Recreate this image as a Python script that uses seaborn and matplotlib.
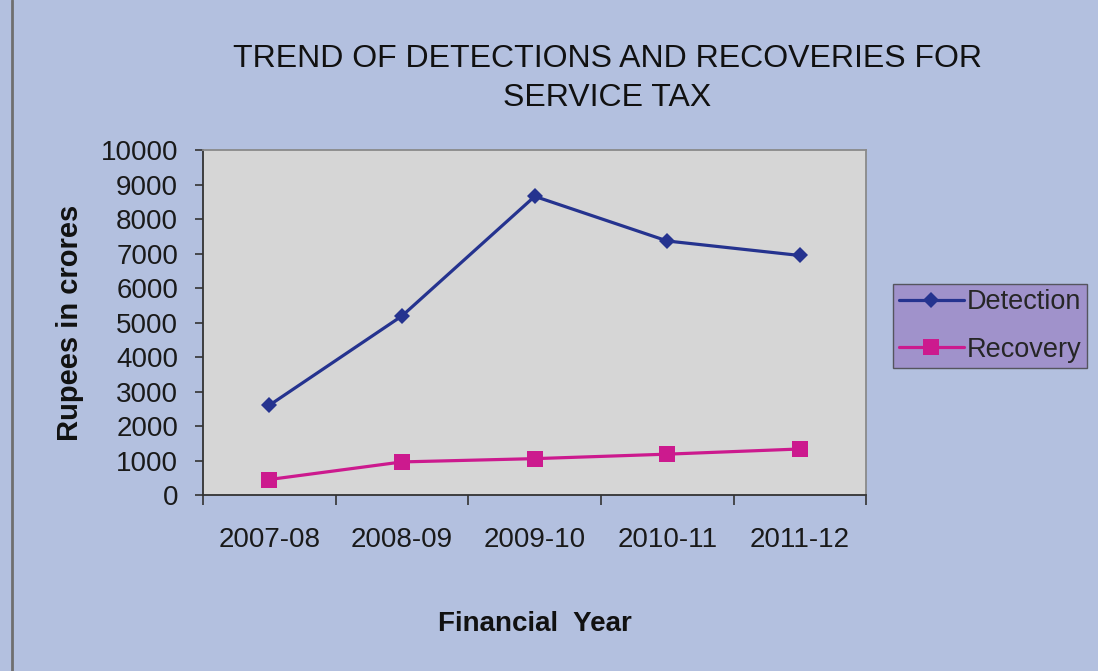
import matplotlib
matplotlib.use("Agg")
import matplotlib.pyplot as plt
import seaborn as sns
import pandas as pd
from matplotlib.lines import Line2D

years = ["2007-08", "2008-09", "2009-10", "2010-11", "2011-12"]
detection = [2610, 5200, 8665, 7370, 6950]
recovery = [455, 965, 1060, 1190, 1340]
series_names = ["Detection", "Recovery"]
yticks = list(range(0, 10001, 1000))

sns.set_theme(style="white")
plt.rcParams['font.family'] = ['Liberation Sans', 'DejaVu Sans']

df = pd.DataFrame({
    "year": years * 2,
    "value": detection + recovery,
    "series": [series_names[0]] * len(years) + [series_names[1]] * len(years),
})

bg = "#B3C0DF"
fig = plt.figure(figsize=(10.98, 6.71), dpi=100, facecolor=bg)
ax = fig.add_axes([0.185, 0.262, 0.604, 0.514])
ax.set_facecolor("#D6D6D6")

palette = {"Detection": "#25338F", "Recovery": "#CC1A8E"}
sns.lineplot(data=df, x="year", y="value", hue="series", style="series",
             markers={"Detection": "D", "Recovery": "s"},
             dashes=False, palette=palette, linewidth=2.3,
             markeredgewidth=0, ax=ax, legend=False, sort=False)
for line, ms in zip(ax.lines, [8.5, 12]):
    line.set_markersize(ms)

ax.set_xlim(-0.5, len(years) - 0.5)
ax.set_ylim(0, 10000)
ax.set_yticks(yticks)
ax.set_yticklabels([str(v) for v in yticks], fontsize=20, color="#1a1a1a")
ax.tick_params(axis="y", direction="out", length=6, width=1.2, color="#333333", pad=12, left=True)

ax.set_xticks([i - 0.5 for i in range(len(years) + 1)])
ax.set_xticklabels([])
ax.tick_params(axis="x", which="major", direction="out", length=7, width=1.2, color="#333333", bottom=True)
ax.set_xticks(range(len(years)), minor=True)
ax.set_xticklabels(years, minor=True, fontsize=20, color="#1a1a1a")
ax.tick_params(axis="x", which="minor", length=0, pad=23)

for s in ["left", "bottom"]:
    ax.spines[s].set_color("#333333")
    ax.spines[s].set_linewidth(1.3)
for s in ["top", "right"]:
    ax.spines[s].set_color("#8a8a8a")
    ax.spines[s].set_linewidth(1.3)

ax.set_xlabel("Financial  Year", fontsize=20, fontweight="bold", labelpad=42, color="#111111")
ax.set_ylabel("Rupees in crores", fontsize=21, fontweight="bold", labelpad=12, color="#111111")

fig.suptitle("TREND OF DETECTIONS AND RECOVERIES FOR\nSERVICE TAX", x=0.553, y=0.934,
             fontsize=23, color="#111111", linespacing=1.4)

handles = [Line2D([], [], color=palette["Detection"], marker="D", markersize=8.5, lw=2.3, markeredgewidth=0),
           Line2D([], [], color=palette["Recovery"], marker="s", markersize=12, lw=2.3, markeredgewidth=0)]
leg = fig.legend(handles, series_names, loc="center left", bbox_to_anchor=(0.8135, 0.514),
                 fontsize=19.5, frameon=True, fancybox=False, handlelength=2.4,
                 handletextpad=0.1, borderpad=0.2, labelspacing=0.8, borderaxespad=0)
leg.get_frame().set_facecolor("#9C87C7")
leg.get_frame().set_edgecolor("#404040")
leg.get_frame().set_linewidth(1.0)

fig.add_artist(Line2D([0.011, 0.011], [0, 1], transform=fig.transFigure, color="#6f6f6f", lw=2))

fig.savefig("out.png", dpi=100, facecolor=bg)
